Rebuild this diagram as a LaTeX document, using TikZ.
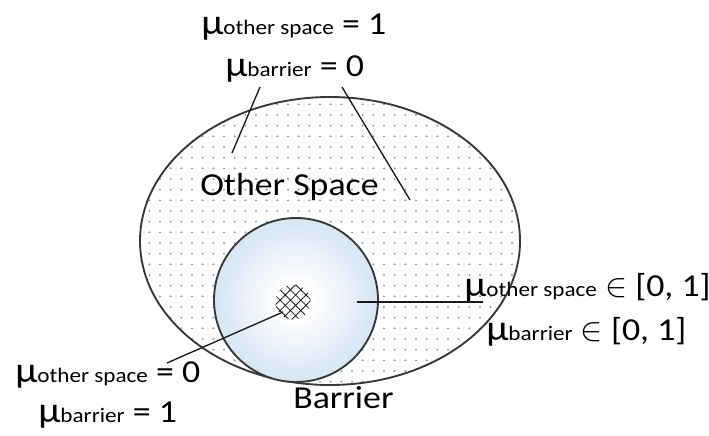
\documentclass[tikz,border=0pt]{standalone}
\usepackage{fontspec}
\setmainfont{Carlito}[FakeStretch=1.12]
\usetikzlibrary{positioning,shapes.geometric,patterns.meta}
\definecolor{ink}{HTML}{1A1A1A}
\definecolor{rim}{HTML}{383838}
\definecolor{dotblue}{HTML}{5B9BD5}
\definecolor{barrierblue}{HTML}{AAC8EA}
\pgfdeclareradialshading{barrierglow}{\pgfpoint{0bp}{0bp}}{%
  color(0bp)=(white); color(5bp)=(white);
  color(28bp)=(white!45!barrierblue);
  color(47bp)=(barrierblue); color(50bp)=(barrierblue)}
\newcommand{\mship}[2]{{\fontsize{27}{27}\selectfont μ}{\fontsize{15.5}{16}\selectfont #1} #2}
\tikzset{
  regionrim/.style={draw=rim,line width=1.4pt},
  otherfill/.style={pattern={Dots[distance=8pt,radius=0.8pt]},pattern color=dotblue},
  corefill/.style={preaction={fill=white},
                   pattern={Hatch[angle=45,distance=5.5pt,line width=0.6pt]},
                   pattern color=ink},
  leader/.style={draw=ink,line width=1pt},
  memlabel/.style={font=\fontsize{24}{26}\selectfont,inner sep=0pt,anchor=base west},
  regionname/.style={font=\fontsize{24}{26}\selectfont,inner sep=0pt,anchor=base west}
}

\begin{document}
\begin{tikzpicture}[x=0.75pt,y=-0.75pt]
  \useasboundingbox (0,0) rectangle (709,435);

  % regions
  \node[ellipse,regionrim,otherfill,minimum width=285pt,minimum height=216pt] (otherspace) at (330,241) {};
  \node[circle,regionrim,shading=barrierglow,minimum size=123pt] (barrier) at (296,300) {};
  \node[circle,draw=white,line width=1.5pt,corefill,minimum size=28pt,inner sep=0pt] (core) at (293,302) {};

  \node[regionname] (osname) at (200,195) {Other Space};
  \node[regionname] (bname) at (293,408) {Barrier};

  % membership labels
  \node[memlabel] (toptop) at (201,35) {\mship{other space}{= 1}};
  \node[memlabel] (topbar) at (225,76) {\mship{barrier}{= 0}};
  \node[memlabel] (midtop) at (464,296) {\mship{other space}{$\in$ [0, 1]}};
  \node[memlabel] (midbar) at (486,340) {\mship{barrier}{$\in$ [0, 1]}};
  \node[memlabel] (lowtop) at (15,382) {\mship{other space}{= 0}};
  \node[memlabel] (lowbar) at (38,422) {\mship{barrier}{= 1}};

  % leader lines
  \coordinate (tpL) at (260,87);
  \coordinate (tpR) at (342,87);
  \coordinate (osL) at (232,153);
  \coordinate (osR) at (410,200);
  \coordinate (brIn) at (357,302);
  \coordinate (midEnd) at (483,302);
  \coordinate (coreIn) at (283,312);
  \coordinate (lowEnd) at (167,363);
  \draw[leader] (tpL) -- (osL);
  \draw[leader] (tpR) -- (osR);
  \draw[leader] (brIn) -- (midEnd);
  \draw[leader] (coreIn) -- (lowEnd);
\end{tikzpicture}
\end{document}
